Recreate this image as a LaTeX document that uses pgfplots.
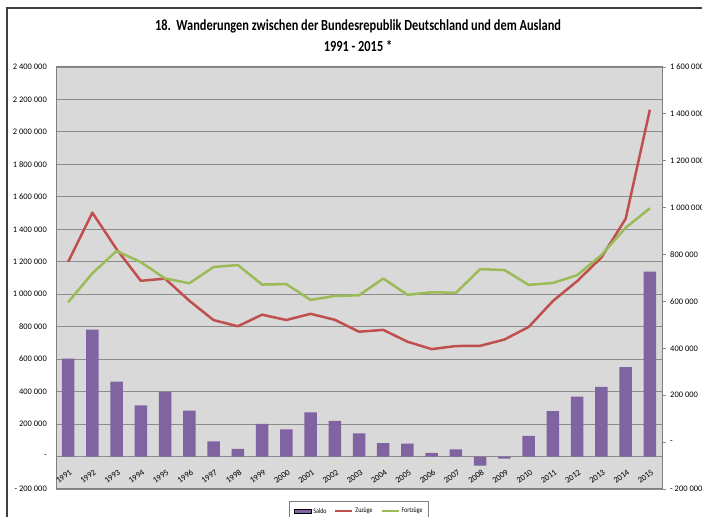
\documentclass[border=0pt]{standalone}
\usepackage{pgfplots}
\usepackage{pgfplotstable}
\pgfplotsset{compat=1.18}
\usepackage{fontspec}
\setmainfont{Carlito}
\newfontfamily\titlefont{Carlito}[FakeStretch=0.8]
\newfontfamily\legfont{Carlito}[FakeStretch=0.85]

\definecolor{saldo}{HTML}{8064A2}
\definecolor{zuz}{HTML}{C0504D}
\definecolor{fort}{HTML}{9BBB59}
\definecolor{plotbg}{HTML}{D9D9D9}
\definecolor{gridc}{HTML}{8C8C8C}
\definecolor{framec}{HTML}{7F7F7F}

\pgfplotstableread{
x saldo zuz fort
1 602523 1198978 596455
2 782071 1502198 720127
3 462096 1277408 815312
4 314998 1082553 767555
5 397935 1096048 698113
6 282197 959691 677494
7 93664 840633 746969
8 47098 802456 755358
9 201975 874023 672048
10 167120 841158 674038
11 272723 879217 606494
12 219288 842543 623255
13 142645 768975 626330
14 82543 780175 697632
15 78953 707352 628399
16 22791 661855 639064
17 43912 680766 636854
18 -55743 682146 737889
19 -12782 721014 733796
20 127677 798282 670605
21 279330 958299 678969
22 368945 1080936 711991
23 428607 1226493 797886
24 550483 1464724 914241
25 1139402 2136954 997552
}\data

\begin{document}
\begin{tikzpicture}[x=1bp,y=1bp]
\begin{axis}[
  at={(56bp,28bp)}, anchor=south west,
  scale only axis, width=606bp, height=422bp,
  xmin=0.5, xmax=25.5,
  ymin=-200000, ymax=2400000,
  ytick={-200000,0,200000,400000,600000,800000,1000000,1200000,1400000,1600000,1800000,2000000,2200000,2400000},
  yticklabels={- 200 000,-,200 000,400 000,600 000,800 000,1 000 000,1 200 000,1 400 000,1 600 000,1 800 000,2 000 000,2 200 000,2 400 000},
  scaled y ticks=false,
  axis background/.style={fill=plotbg},
  axis line style={draw=framec, line width=1bp},
  ymajorgrids, grid style={draw=gridc, line width=0.9bp},
  xtick={1,...,25},
  xticklabels={1991,1992,1993,1994,1995,1996,1997,1998,1999,2000,2001,2002,2003,2004,2005,2006,2007,2008,2009,2010,2011,2012,2013,2014,2015},
  xtick style={draw=none}, ytick style={draw=none},
  xticklabel style={rotate=36, anchor=north east, font=\fontsize{8.5}{9}\selectfont, inner sep=0.5bp, xshift=1.5bp},
  xticklabel shift=-20bp,
  yticklabel style={font=\fontsize{8.5}{9}\selectfont, anchor=east, inner sep=0pt},
  yticklabel shift=9bp,
]
\addplot[ybar, bar width=12.5bp, fill=saldo, draw=none] table[x=x, y=saldo] {\data};
\addplot[zuz, line width=2.5bp, line join=round, mark=none] table[x=x, y=zuz] {\data};
\end{axis}
\begin{axis}[
  at={(56bp,28bp)}, anchor=south west,
  scale only axis, width=606bp, height=422bp,
  xmin=0.5, xmax=25.5,
  ymin=-200000, ymax=1600000,
  axis x line=none,
  axis y line*=right,
  axis line style={draw=framec, line width=1bp},
  ytick={-200000,0,200000,400000,600000,800000,1000000,1200000,1400000,1600000},
  yticklabels={- 200 000,-,200 000,400 000,600 000,800 000,1 000 000,1 200 000,1 400 000,1 600 000},
  scaled y ticks=false,
  tick align=outside, major tick length=4bp,
  ytick style={draw=gridc, line width=0.8bp},
  yticklabel style={font=\fontsize{8.5}{9}\selectfont, anchor=west, inner sep=0pt, xshift=4bp},
  legend style={at={(0.5,-0.028)}, anchor=north, draw=framec, line width=0.8bp, fill=white,
    font=\legfont\fontsize{7}{7.5}\selectfont, inner xsep=4bp, inner ysep=5bp,
    /tikz/every even column/.append style={column sep=6bp}},
  legend columns=3,
  legend cell align=left,
]
\addlegendimage{legend image code/.code={\fill[fill=saldo] (0bp,-2bp) rectangle (17bp,2bp);}}
\addlegendentry{Saldo}
\addlegendimage{legend image code/.code={\draw[draw=zuz, line width=2bp] (0bp,0bp) -- (17bp,0bp);}}
\addlegendentry{Zuzüge}
\addplot[fort, line width=2.5bp, line join=round, mark=none,
  legend image code/.code={\draw[draw=fort, line width=2bp] (0bp,0bp) -- (17bp,0bp);}] table[x=x, y=fort] {\data};
\addlegendentry{Fortzüge}
\end{axis}
\node[font=\titlefont\bfseries\fontsize{15.5}{18}\selectfont] at (358,491) {18.\ \ Wanderungen zwischen der Bundesrepublik Deutschland und dem Ausland};
\node[font=\titlefont\bfseries\fontsize{15.5}{18}\selectfont] at (358,471) {1991 - 2015 *};
\draw[line width=1.3bp, color=black!75] (7,-40) rectangle (740,509);
\pgfresetboundingbox
\path[use as bounding box] (0,0) rectangle (702,517);
\end{tikzpicture}
\end{document}
